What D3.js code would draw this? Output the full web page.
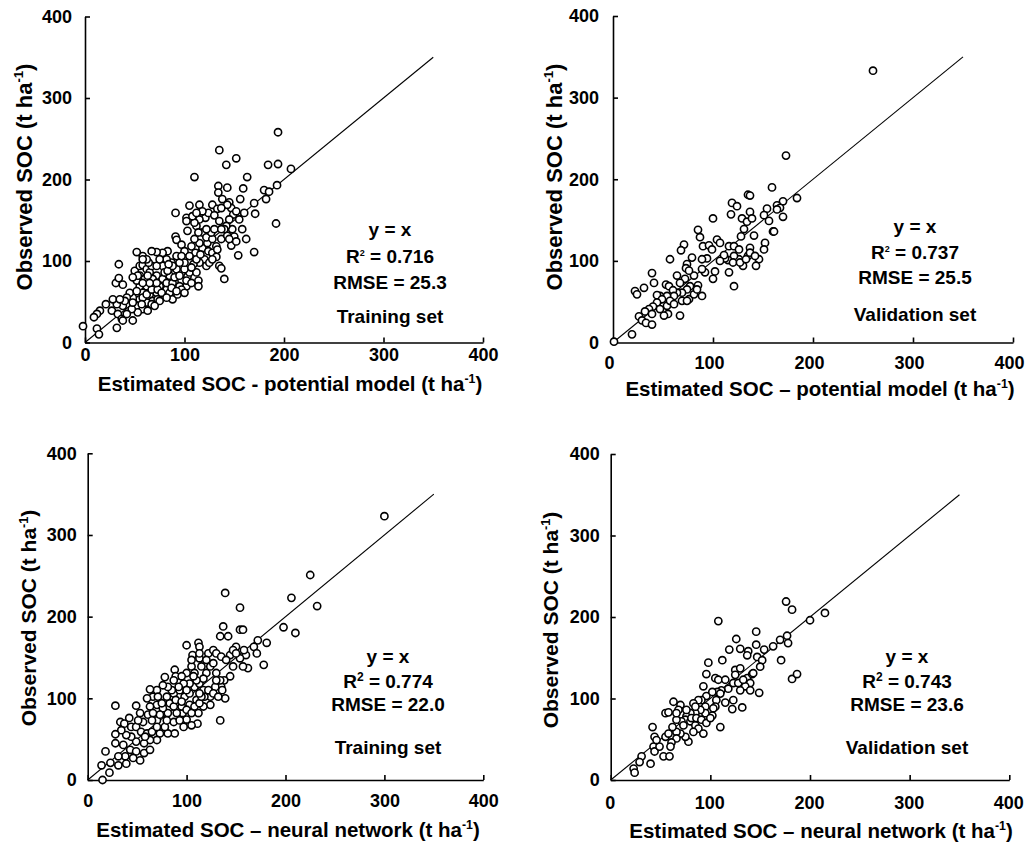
<!DOCTYPE html>
<html>
<head>
<meta charset="utf-8">
<script src="https://cdn.jsdelivr.net/npm/d3@7"></script>
<style>
  body { margin: 0; background: #fff; }
  svg text { font-family: "Liberation Sans", Arial, sans-serif; font-weight: bold; fill: #000; white-space: pre; }
  .tick text { font-size: 18px; }
  .axis path, .axis line { stroke: #000; stroke-width: 1.6; }
</style>
</head>
<body>
<div id="container"></div>
<script>
/* CONSTANTS AND GLOBALS */
const width = 1027;
const height = 851;

/* DATA */
const tickValues = [0, 100, 200, 300, 400];
const xTitles = [
  "Estimated SOC - potential model (t ha",
  "Estimated SOC \u2013 potential model (t ha",
  "Estimated SOC \u2013 neural network (t ha",
  "Estimated SOC \u2013 neural network (t ha"
];
const yTitle = "Observed SOC (t ha";
const r2Values = ["0.716", "0.737", "0.774", "0.743"];
const rmseValues = ["25.3", "25.5", "22.0", "23.6"];
const setNames = ["Training set", "Validation set", "Training set", "Validation set"];

// [estimated, observed]
const potentialTraining = [
  [194,258],[135,236],[152,226],[110,203],[142,218],[184,218],[194,219],[207,213],[163,203],[134,192],
  [143,190],[159,189],[180,187],[185,185],[193,193],[134,184],[156,176],[182,176],[170,171],[105,168],
  [115,169],[128,169],[145,172],[147,165],[133,164],[160,159],[171,158],[149,157],[192,146],[91,159],
  [102,153],[102,149],[121,153],[124,159],[130,156],[135,149],[145,151],[158,139],[148,139],[142,143],
  [137,127],[150,130],[143,131],[147,119],[154,107],[170,111],[118,135],[112,143],[114,135],[103,137],
  [91,130],[92,126],[97,120],[100,112],[107,118],[111,110],[118,116],[123,122],[124,112],[128,110],
  [132,105],[120,102],[115,98],[109,96],[135,94],[137,91],[140,78],[114,76],[114,69],[103,81],
  [105,86],[112,86],[102,69],[97,76],[92,90],[87,98],[82,102],[83,112],[78,110],[72,111],
  [67,112],[58,106],[52,111],[34,96],[31,73],[34,79],[38,71],[50,88],[55,94],[58,95],
  [62,90],[65,86],[72,82],[78,94],[85,82],[78,78],[75,69],[68,69],[62,69],[55,69],
  [52,76],[58,61],[65,59],[72,61],[82,65],[88,69],[95,69],[85,61],[78,57],[68,51],
  [62,49],[55,53],[48,55],[45,61],[52,45],[58,41],[67,47],[73,53],[53,37],[47,41],
  [42,55],[38,45],[32,47],[28,53],[21,47],[15,39],[12,35],[9,31],[27,39],[33,35],
  [37,29],[42,35],[48,27],[32,18],[38,27],[-2,20],[12,17],[14,10],[58,55],[62,59],
  [88,53],[93,59],[97,65],[68,78],[82,73],[88,73],[90,80],[95,82],[100,90],[100,98],
  [95,98],[92,106],[97,106],[105,106],[107,92],[112,102],[116,108],[122,94],[125,98],[128,102],
  [115,122],[110,127],[122,129],[128,127],[132,118],[133,114],[127,135],[130,139],[115,151],[122,139],
  [110,147],[108,155],[118,161],[112,159],[140,139],[137,139],[145,127],[152,124],[162,127],[155,151],
  [152,161],[143,169],[137,165],[138,176],[67,65],[73,65],[77,61],[82,55],[75,51],[63,39],
  [70,45],[40,51],[35,53],[57,47],[48,49],[52,63],[55,82],[60,78],[63,82],[67,94],
  [72,94],[75,102],[80,86],[83,88],[87,67],[92,63],[88,94],[84,96],[64,98],[62,102],
  [58,102],[72,73],[65,73],[58,73],[53,82],[48,80],[100,61],[102,76],[107,73]
];

const potentialValidation = [
  [260,333],[173,229],[159,190],[184,177],[135,181],[137,180],[119,171],[124,167],[118,157],[100,152],
  [170,173],[164,168],[154,164],[167,165],[164,163],[151,156],[156,149],[170,154],[137,160],[129,152],
  [134,148],[139,152],[160,136],[161,136],[131,139],[141,131],[128,130],[85,138],[87,129],[71,120],
  [68,113],[90,118],[96,119],[99,114],[104,126],[107,122],[116,118],[121,118],[126,114],[137,116],
  [135,106],[152,122],[151,114],[146,102],[143,94],[130,94],[126,102],[121,106],[115,101],[112,103],
  [116,86],[121,69],[102,87],[100,78],[92,86],[94,103],[89,102],[89,90],[79,104],[74,96],
  [73,91],[72,78],[81,82],[85,70],[89,57],[77,69],[74,65],[67,73],[69,61],[64,61],
  [76,53],[69,51],[57,102],[53,71],[56,69],[60,64],[61,57],[54,57],[47,57],[41,73],
  [39,85],[22,63],[24,59],[31,67],[44,58],[49,53],[44,49],[40,44],[36,41],[32,38],
  [26,32],[29,27],[33,24],[39,22],[39,35],[47,41],[54,45],[57,51],[61,47],[55,35],
  [67,33],[51,33],[19,10],[1,1],[74,51],[81,59],[84,65],[64,82],[76,88],[111,107],
  [107,100],[120,98],[127,98],[133,102],[137,110],[142,106]
];

const networkTraining = [
  [300,323],[225,251],[206,223],[232,213],[139,229],[154,211],[198,187],[210,180],[137,188],[134,176],
  [142,176],[154,184],[157,184],[172,171],[181,168],[168,163],[160,153],[162,137],[178,141],[100,165],
  [112,168],[113,163],[106,153],[113,149],[122,155],[127,159],[130,155],[135,151],[144,153],[150,163],
  [147,159],[154,149],[157,139],[147,139],[144,127],[138,122],[135,114],[136,110],[139,100],[134,73],
  [88,135],[78,126],[89,127],[100,131],[105,139],[108,131],[115,139],[120,131],[124,139],[127,143],
  [130,131],[134,122],[129,114],[124,102],[124,92],[117,90],[112,82],[111,69],[105,67],[100,74],
  [96,82],[90,82],[87,71],[88,57],[81,57],[78,65],[73,57],[70,73],[76,82],[83,94],
  [87,106],[93,110],[98,102],[103,106],[108,114],[113,118],[117,110],[118,102],[110,98],[103,92],
  [95,90],[80,102],[70,110],[63,111],[66,102],[60,100],[70,92],[63,90],[61,80],[53,82],
  [49,91],[28,91],[33,71],[42,76],[37,69],[44,65],[49,65],[54,59],[60,57],[65,59],
  [70,49],[63,49],[57,45],[49,47],[44,53],[39,55],[34,61],[28,56],[28,45],[36,43],
  [43,37],[49,35],[57,33],[63,37],[38,29],[31,29],[23,21],[18,35],[14,18],[31,18],
  [22,9],[15,0],[46,27],[53,24],[39,20],[81,82],[87,90],[76,88],[73,80],[80,73],
  [93,73],[97,65],[100,86],[105,82],[108,90],[113,94],[115,102],[122,110],[127,106],[132,102],
  [130,122],[117,124],[110,122],[103,118],[97,118],[92,114],[85,110],[81,114],[76,116],[71,102],
  [75,94],[66,82],[56,71],[51,73],[58,53],[70,65],[65,73],[89,98],[95,96],[113,106],
  [100,110],[107,127],[95,127],[87,122],[113,155],[120,147],[105,147],[140,147],[150,155],[158,159],
  [171,155]
];

const networkValidation = [
  [215,205],[200,196],[176,219],[182,209],[108,195],[146,182],[126,173],[119,160],[130,161],[138,158],
  [137,153],[146,166],[154,160],[163,164],[170,172],[177,177],[178,168],[147,151],[152,147],[171,147],
  [182,124],[187,130],[98,144],[112,147],[96,130],[105,125],[108,123],[125,135],[130,137],[125,129],
  [137,125],[140,119],[142,130],[135,115],[140,110],[149,107],[130,110],[132,89],[123,98],[122,87],
  [115,95],[118,112],[111,110],[107,108],[106,98],[105,90],[102,79],[110,65],[93,115],[96,103],
  [91,98],[88,98],[83,94],[95,90],[95,82],[90,86],[85,82],[80,82],[76,78],[75,74],
  [71,72],[70,92],[68,86],[63,96],[55,82],[58,83],[66,74],[73,67],[80,72],[85,67],
  [88,63],[83,59],[93,57],[78,47],[75,53],[70,57],[66,59],[66,51],[61,46],[60,41],
  [55,53],[44,53],[42,65],[43,41],[44,35],[49,41],[53,29],[59,29],[31,29],[29,22],
  [40,20],[23,14],[24,9],[46,49],[81,76],[86,76],[91,74],[96,70],[100,76],[103,88],
  [110,106],[115,123],[123,119],[128,119],[133,123],[143,131],[150,139],[102,108],[85,90],[76,86],
  [66,82],[62,65],[58,57]
];

/* LAYOUT */
const panels = [
  { data: potentialTraining, xr: [85, 483], yr: [342.5, 16.5], xPad: 6, yPad: 13, xShift: 0,
    stats: { cx: 390, base: [236, 263, 289, 323] }, xt: [290, 391], yt: [32, 177], ytSize: 22 },
  { data: potentialValidation, xr: [613, 1013], yr: [342.5, 16], xPad: 14, yPad: 14, xShift: -4,
    stats: { cx: 915, base: [233, 259, 284, 321] }, xt: [820, 396], yt: [562, 177], ytSize: 22 },
  { data: networkTraining, xr: [87.7, 483.3], yr: [780, 453.3], xPad: 14, yPad: 11, xShift: 0,
    stats: { cx: 388, base: [663, 688, 711, 754] }, xt: [288, 837], yt: [36, 618], ytSize: 21 },
  { data: networkValidation, xr: [610.7, 1009.3], yr: [780, 454], xPad: 16, yPad: 11, xShift: -1,
    stats: { cx: 907, base: [663, 688, 711, 754] }, xt: [821, 838], yt: [558, 620], ytSize: 21 }
];

/* HTML ELEMENTS */
const svg = d3.select("#container")
  .append("svg")
  .attr("width", width)
  .attr("height", height)

// text with a small raised "-1" unit exponent
function unitText(sel, label, size) {
  sel.attr("font-size", size)
  sel.append("tspan").text(label)
  sel.append("tspan").attr("font-size", size * 0.6).attr("dy", -size * 0.4).text("-1")
  sel.append("tspan").attr("dy", size * 0.4).text(")")
}

panels.forEach((p, i) => {
  /* SCALES */
  const xScale = d3.scaleLinear().domain([0, 400]).range(p.xr)
  const yScale = d3.scaleLinear().domain([0, 400]).range(p.yr)

  const g = svg.append("g")

  /* Axes */
  const xAxis = d3.axisBottom(xScale).tickValues(tickValues).tickSizeInner(-5).tickSizeOuter(0).tickPadding(p.xPad)
  const yAxis = d3.axisLeft(yScale).tickValues(tickValues).tickSizeInner(-5).tickSizeOuter(0).tickPadding(p.yPad)

  g.append("g")
    .attr("class", "axis")
    .attr("transform", `translate(0, ${yScale(0)})`)
    .call(xAxis)
    .attr("font-size", null).attr("font-family", null)
    .selectAll(".tick text").attr("dx", p.xShift)

  g.append("g")
    .attr("class", "axis")
    .attr("transform", `translate(${xScale(0)}, 0)`)
    .call(yAxis)
    .attr("font-size", null).attr("font-family", null)

  // 1:1 line
  g.append("line")
    .attr("x1", xScale(0)).attr("y1", yScale(0))
    .attr("x2", xScale(350)).attr("y2", yScale(350))
    .attr("stroke", "#000")
    .attr("stroke-width", 1.1)

  // points
  g.selectAll("circle.pt")
    .data(p.data)
    .join("circle")
    .attr("class", "pt")
    .attr("cx", d => xScale(d[0]))
    .attr("cy", d => yScale(d[1]))
    .attr("r", 3.6)
    .attr("fill", "#fff")
    .attr("stroke", "#000")
    .attr("stroke-width", 1.6)

  // stats block
  const s = p.stats
  g.append("text").attr("x", s.cx).attr("y", s.base[0]).attr("text-anchor", "middle")
    .attr("font-size", 19).text("y = x")
  const r2 = g.append("text").attr("x", s.cx).attr("y", s.base[1]).attr("text-anchor", "middle").attr("font-size", 19)
  r2.append("tspan").text("R")
  r2.append("tspan").attr("font-size", i < 2 ? 9 : 12).attr("dy", -7).text("2")
  r2.append("tspan").attr("dy", 7).text(" = " + r2Values[i])
  g.append("text").attr("x", s.cx).attr("y", s.base[2]).attr("text-anchor", "middle")
    .attr("font-size", 19).text("RMSE = " + rmseValues[i])
  g.append("text").attr("x", s.cx).attr("y", s.base[3]).attr("text-anchor", "middle")
    .attr("font-size", 19).text(setNames[i])

  // axis titles
  g.append("text")
    .attr("x", p.xt[0]).attr("y", p.xt[1])
    .attr("text-anchor", "middle")
    .call(unitText, xTitles[i], 20.5)

  g.append("text")
    .attr("transform", `translate(${p.yt[0]}, ${p.yt[1]}) rotate(-90)`)
    .attr("text-anchor", "middle")
    .call(unitText, yTitle, p.ytSize)
})
</script>
</body>
</html>
